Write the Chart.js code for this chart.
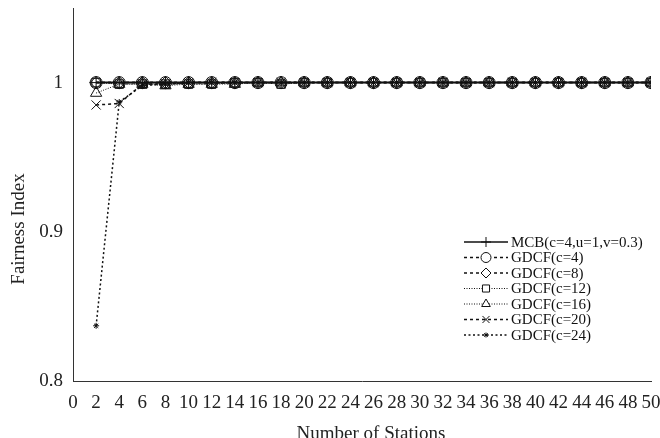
<!DOCTYPE html>
<html>
<head>
<meta charset="utf-8">
<script src="https://cdn.jsdelivr.net/npm/chart.js@4/dist/chart.umd.min.js"></script>
<style>
  html, body { margin: 0; padding: 0; background: #fff; }
  #wrap { width: 660px; height: 438px; }
</style>
</head>
<body>
<div id="wrap"><canvas id="chart"></canvas></div>
<script>
const stations = [2, 4, 6, 8, 10, 12, 14, 16, 18, 20, 22, 24, 26, 28, 30, 32, 34, 36, 38, 40, 42, 44, 46, 48, 50];
const yTicks = [0.8, 0.9, 1];

const mcb   = [1, 1, 1, 1, 1, 1, 1, 1, 1, 1, 1, 1, 1, 1, 1, 1, 1, 1, 1, 1, 1, 1, 1, 1, 1];
const gdcf4  = [1, 1, 1, 1, 1, 1, 1, 1, 1, 1, 1, 1, 1, 1, 1, 1, 1, 1, 1, 1, 1, 1, 1, 1, 1];
const gdcf8  = [1, 1, 1, 1, 1, 1, 1, 1, 1, 1, 1, 1, 1, 1, 1, 1, 1, 1, 1, 1, 1, 1, 1, 1, 1];
const gdcf12 = [1, 0.999, 0.999, 0.999, 0.999, 0.999, 1, 1, 0.999, 1, 1, 1, 1, 1, 1, 1, 1, 1, 1, 1, 1, 1, 1, 1, 1];
const gdcf16 = [0.993, 0.999, 0.999, 0.998, 0.999, 0.999, 0.999, 1, 1, 1, 1, 1, 1, 1, 1, 1, 1, 1, 1, 1, 1, 1, 1, 1, 1];
const gdcf20 = [0.985, 0.986, 0.999, 0.999, 1, 1, 1, 1, 1, 1, 1, 1, 1, 1, 1, 1, 1, 1, 1, 1, 1, 1, 1, 1, 1];
const gdcf24 = [0.837, 0.987, 0.998, 0.999, 1, 1, 1, 1, 1, 1, 1, 1, 1, 1, 1, 1, 1, 1, 1, 1, 1, 1, 1, 1, 1];

const seriesNames = ['MCB(c=4,u=1,v=0.3)', 'GDCF(c=4)', 'GDCF(c=8)', 'GDCF(c=12)', 'GDCF(c=16)', 'GDCF(c=20)', 'GDCF(c=24)'];
const seriesData = [mcb, gdcf4, gdcf8, gdcf12, gdcf16, gdcf20, gdcf24];

const styles = [
    { pointStyle: 'cross',    radius: 6.5, dash: [],       width: 2 },
    { pointStyle: 'circle',   radius: 6,   dash: [3, 3],   width: 1.5 },
    { pointStyle: 'rectRot',  radius: 6,   dash: [3, 3],   width: 1.5 },
    { pointStyle: 'rect',     radius: 6,   dash: [1, 1.5], width: 1 },
    { pointStyle: 'triangle', radius: 6.5, dash: [1, 1.5], width: 1 },
    { pointStyle: 'crossRot', radius: 6.5, dash: [3, 3],   width: 1.5 },
    { pointStyle: 'star',     radius: 3,   dash: [2, 2.5], width: 1.5 }
];

const serif = '"Liberation Serif", "DejaVu Serif", serif';

const datasets = seriesNames.map((name, i) => ({
    label: name,
    data: stations.map((x, j) => ({ x: x, y: seriesData[i][j] })),
    borderColor: '#111',
    borderWidth: styles[i].width,
    borderDash: styles[i].dash,
    pointStyle: styles[i].pointStyle,
    pointRadius: styles[i].radius,
    pointBorderColor: '#111',
    pointBackgroundColor: 'rgba(255,255,255,0)',
    pointBorderWidth: 1,
    fill: false,
    tension: 0
}));

// axis titles and the legend box drawn inside the plot
const decorations = {
    id: 'decorations',
    afterDraw(chart) {
        const ctx = chart.ctx;
        ctx.save();
        ctx.fillStyle = '#222';
        ctx.font = '19px ' + serif;
        ctx.textAlign = 'center';
        ctx.textBaseline = 'alphabetic';
        ctx.fillText('Number of Stations', 371, 439);
        ctx.translate(24, 229);
        ctx.rotate(-Math.PI / 2);
        ctx.fillText('Fairness Index', 0, 0);
        ctx.restore();

        ctx.save();
        ctx.font = '15px ' + serif;
        ctx.textBaseline = 'middle';
        seriesNames.forEach((name, i) => {
            const y = 242 + i * 15.5;
            const st = styles[i];
            ctx.strokeStyle = '#111';
            ctx.lineWidth = i === 0 ? 1.5 : st.width;
            ctx.setLineDash(st.dash);
            ctx.beginPath();
            ctx.moveTo(464, y);
            ctx.lineTo(508, y);
            ctx.stroke();
            ctx.setLineDash([]);
            ctx.lineWidth = 1;
            ctx.fillStyle = '#fff';
            Chart.helpers.drawPoint(ctx, {
                pointStyle: st.pointStyle,
                radius: st.pointStyle === 'star' ? 2.5 : 5,
                rotation: 0,
                borderWidth: 1
            }, 486, y);
            ctx.fillStyle = '#111';
            ctx.fillText(name, 511, y + 1);
        });
        ctx.restore();
    }
};

new Chart(document.getElementById('chart'), {
    type: 'line',
    data: { datasets: datasets },
    options: {
        responsive: true,
        maintainAspectRatio: false,
        animation: false,
        layout: { padding: { left: 0, right: 0, top: 8, bottom: 0 } },
        plugins: {
            legend: { display: false },
            tooltip: { enabled: false }
        },
        scales: {
            x: {
                type: 'linear',
                min: 0,
                max: 50,
                grid: { display: false, drawTicks: true, tickLength: 6, tickColor: '#333' },
                border: { display: true, color: '#333', width: 1 },
                ticks: {
                    stepSize: 2,
                    autoSkip: false,
                    maxRotation: 0,
                    color: '#222',
                    padding: 5,
                    font: { family: serif, size: 19 }
                },
                afterFit(scale) {
                    scale.height = 57;
                    scale.paddingLeft = 0;
                    scale.paddingRight = 9;
                }
            },
            y: {
                min: 0.8,
                max: 1.05,
                afterBuildTicks(scale) {
                    scale.ticks = yTicks.map(v => ({ value: v }));
                },
                grid: { display: false, drawTicks: true, tickLength: 6, tickColor: '#333' },
                border: { display: true, color: '#333', width: 1 },
                ticks: {
                    color: '#222',
                    padding: 4,
                    font: { family: serif, size: 19 },
                    callback: v => (v === 1 ? '1' : v.toFixed(1))
                },
                afterFit(scale) {
                    scale.width = 73;
                    scale.paddingTop = 0;
                    scale.paddingBottom = 0;
                }
            }
        }
    },
    plugins: [decorations]
});
</script>
</body>
</html>
